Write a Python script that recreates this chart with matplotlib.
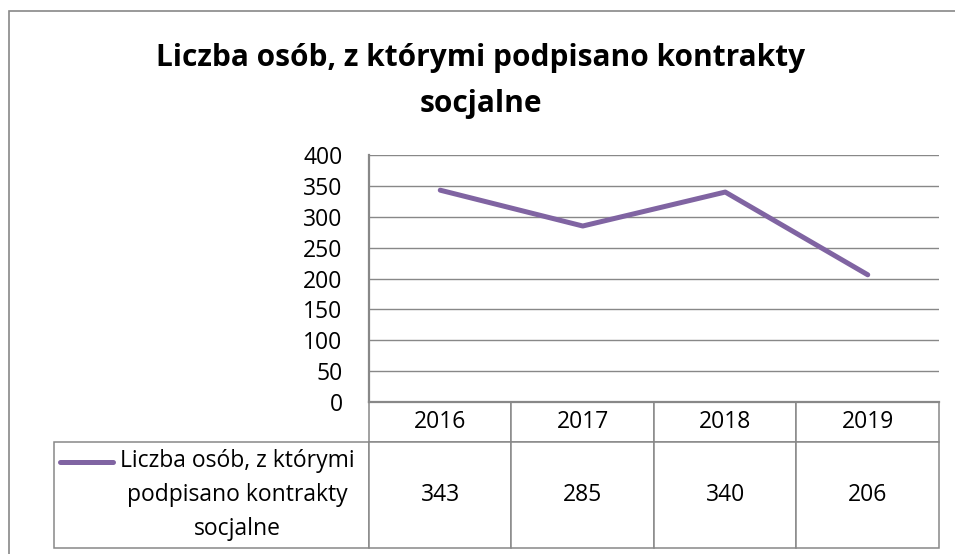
import matplotlib
matplotlib.use("Agg")
import matplotlib.pyplot as plt
from matplotlib.table import Table
from matplotlib.patches import Rectangle
from matplotlib.lines import Line2D

years = ["2016", "2017", "2018", "2019"]
values = [343, 285, 340, 206]
series_name = "Liczba osób, z którymi\npodpisano kontrakty\nsocjalne"
title = "Liczba osób, z którymi podpisano kontrakty\nsocjalne"
yticks = [0, 50, 100, 150, 200, 250, 300, 350, 400]

LINE = "#8064A2"
GRID = "#888888"

plt.rcParams["font.family"] = ["Open Sans", "DejaVu Sans"]

W, H = 955, 554
fig = plt.figure(figsize=(W / 100, H / 100), dpi=100)

# outer chart frame (only top and left edges are visible)
fig.add_artist(Rectangle((8.5 / W, -0.5), 2, 1.5 - 10.5 / H, transform=fig.transFigure,
                         fill=False, edgecolor=GRID, linewidth=1.2))

fig.text(481 / W, 1 - 81 / H, title, ha="center", va="center",
         fontsize=21.5, fontweight="bold", linespacing=1.7)

ax = fig.add_axes([369 / W, 1 - 402 / H, 570 / W, 247 / H])
x = list(range(len(years)))
ax.plot(x, values, color=LINE, linewidth=3.6, solid_capstyle="round", solid_joinstyle="round", zorder=3)
ax.set_xlim(-0.5, len(years) - 0.5)
ax.set_ylim(0, 400)
ax.set_yticks(yticks)
ax.set_xticks([])
ax.tick_params(axis="y", length=0, pad=19, labelsize=16.5)
ax.grid(axis="y", color=GRID, linewidth=1.0)
ax.set_axisbelow(True)
for s in ["top", "right"]:
    ax.spines[s].set_visible(False)
for s in ["left", "bottom"]:
    ax.spines[s].set_color(GRID)
    ax.spines[s].set_linewidth(1.6)

# data table below the plot (Excel style)
label_w = 315 / 570
col_w = 1 / len(years)
head_h = 40 / 247
row_h = 106 / 247
tbl = Table(ax, bbox=[0, -(head_h + row_h), 1, head_h + row_h])
for j, yr in enumerate(years):
    tbl.add_cell(0, j, col_w, head_h, text=yr, loc="center", facecolor="white", edgecolor=GRID)
    tbl.add_cell(1, j, col_w, row_h, text=str(values[j]), loc="center", facecolor="white", edgecolor=GRID)
c = tbl.add_cell(1, -1, label_w, row_h, text=series_name, loc="right", facecolor="white", edgecolor=GRID)
c.PAD = 0.045
c.get_text().set_multialignment("center")
c.get_text().set_linespacing(1.55)
tbl.auto_set_font_size(False)
tbl.set_fontsize(16.5)
for cell in tbl.get_celld().values():
    cell.set_linewidth(1.1)
ax.add_table(tbl)

# legend key in the table
key_y = -(head_h + (462 - 442) / 247)
ax.add_line(Line2D([(60 - 369) / 570, (113 - 369) / 570], [key_y, key_y], transform=ax.transAxes,
                   color=LINE, linewidth=3.6, solid_capstyle="round", clip_on=False))

fig.savefig("out.png", dpi=100)
